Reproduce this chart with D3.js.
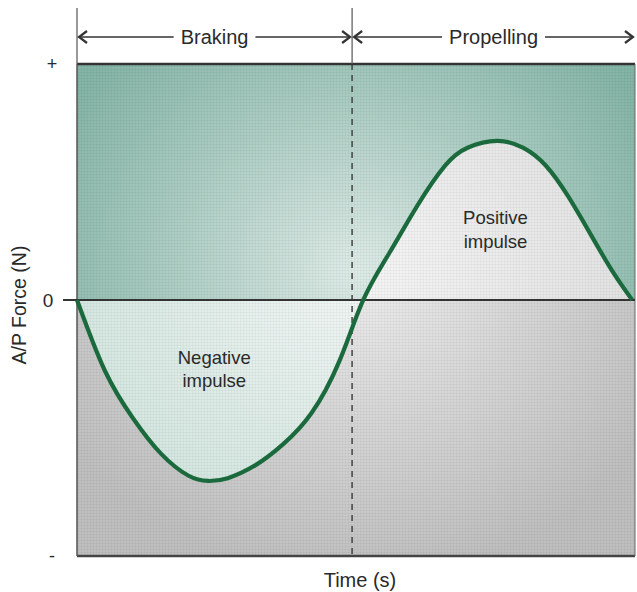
<!DOCTYPE html>
<html lang="en">
<head>
    <meta charset="UTF-8">
    <title>A/P Force</title>
    <script src="https://cdn.jsdelivr.net/npm/d3@7"></script>
    <style>
        body { margin: 0; background: #fff; }
        text { font-family: "Liberation Sans", Arial, Helvetica, sans-serif; fill: #2a2a2a; }
    </style>
</head>
<body>
    <script>
        // stance time (% of contact) and anterior/posterior force (relative units)
        let time = [0, 5, 10, 15, 20, 23.5, 27, 32, 37, 42, 47, 51.3, 56, 61, 66, 70, 75.3, 80, 84, 88, 92, 96, 99.5];
        let force = [0, -0.30, -0.50, -0.65, -0.745, -0.767, -0.755, -0.70, -0.61, -0.48, -0.26, 0,
            0.20, 0.40, 0.57, 0.645, 0.674, 0.645, 0.57, 0.44, 0.28, 0.12, 0];
        let phases = ['Braking', 'Propelling'];
        let phaseEdges = [0, 49.3, 100];
        let yTicks = [{ v: 1, label: '+' }, { v: 0, label: '0' }, { v: -1.085, label: '-' }];

        let width = 637,
            height = 592,
            pad = { left: 77, right: 635, top: 64, bottom: 556 };

        let x = d3.scaleLinear().domain([0, 100]).range([pad.left, pad.right]);
        let y = d3.scaleLinear().domain([-1.085, 1]).range([pad.bottom, pad.top]);
        let pts = time.map((t, i) => [t, force[i]]);
        let pw = pad.right - pad.left;

        let svg = d3.select('body').append('svg').attr('width', width).attr('height', height);
        let defs = svg.append('defs');

        // lighter centre like the original print
        let rg = defs.append('radialGradient').attr('id', 'glow')
            .attr('cx', 0.5).attr('cy', 0.42).attr('r', 0.62);
        rg.append('stop').attr('offset', 0).attr('stop-color', '#fff').attr('stop-opacity', 0.75);
        rg.append('stop').attr('offset', 0.55).attr('stop-color', '#fff').attr('stop-opacity', 0.35);
        rg.append('stop').attr('offset', 1).attr('stop-color', '#fff').attr('stop-opacity', 0.05);

        // fine halftone grid
        let pat = defs.append('pattern').attr('id', 'grid')
            .attr('width', 3).attr('height', 3).attr('patternUnits', 'userSpaceOnUse');
        pat.append('path').attr('d', 'M0 0.5H3M0.5 0V3')
            .attr('stroke', '#000').attr('stroke-opacity', 0.035).attr('stroke-width', 1);

        defs.append('clipPath').attr('id', 'above').append('rect')
            .attr('x', pad.left).attr('y', pad.top).attr('width', pw).attr('height', y(0) - pad.top);
        defs.append('clipPath').attr('id', 'below').append('rect')
            .attr('x', pad.left).attr('y', y(0)).attr('width', pw).attr('height', pad.bottom - y(0));

        // backgrounds
        svg.append('rect').attr('x', pad.left).attr('y', pad.top)
            .attr('width', pw).attr('height', y(0) - pad.top).attr('fill', '#7db1a1');
        svg.append('rect').attr('x', pad.left).attr('y', y(0))
            .attr('width', pw).attr('height', pad.bottom - y(0)).attr('fill', '#bcbcbc');

        let line = d3.line().x(d => x(d[0])).y(d => y(d[1])).curve(d3.curveNatural);
        let area = d3.area().x(d => x(d[0])).y0(y(0)).y1(d => y(d[1])).curve(d3.curveNatural);

        svg.append('path').datum(pts).attr('d', area).attr('fill', '#dcdcdc').attr('clip-path', 'url(#above)');
        svg.append('path').datum(pts).attr('d', area).attr('fill', '#cde2db').attr('clip-path', 'url(#below)');

        svg.append('rect').attr('x', pad.left).attr('y', pad.top)
            .attr('width', pw).attr('height', pad.bottom - pad.top).attr('fill', 'url(#glow)');
        svg.append('rect').attr('x', pad.left).attr('y', pad.top)
            .attr('width', pw).attr('height', pad.bottom - pad.top).attr('fill', 'url(#grid)');

        // phase divider
        svg.append('line')
            .attr('x1', x(phaseEdges[1])).attr('x2', x(phaseEdges[1]))
            .attr('y1', pad.top).attr('y2', pad.bottom)
            .attr('stroke', '#444').attr('stroke-width', 1.5).attr('stroke-dasharray', '6,5');

        // frame and zero line
        svg.append('line').attr('x1', pad.left).attr('x2', pad.right).attr('y1', pad.top).attr('y2', pad.top)
            .attr('stroke', '#333').attr('stroke-width', 2.5);
        svg.append('line').attr('x1', pad.left).attr('x2', pad.right).attr('y1', pad.bottom).attr('y2', pad.bottom)
            .attr('stroke', '#444').attr('stroke-width', 2.5);
        svg.append('line').attr('x1', pad.left).attr('x2', pad.left).attr('y1', pad.top).attr('y2', pad.bottom)
            .attr('stroke', '#555').attr('stroke-width', 1.5);
        svg.append('line').attr('x1', pad.right).attr('x2', pad.right).attr('y1', pad.top).attr('y2', pad.bottom)
            .attr('stroke', '#666').attr('stroke-width', 1);
        svg.append('line').attr('x1', 63).attr('x2', pad.right).attr('y1', y(0)).attr('y2', y(0))
            .attr('stroke', '#333').attr('stroke-width', 2);

        // curve
        svg.append('path').datum(pts).attr('d', line)
            .attr('fill', 'none').attr('stroke', '#1b6a3e').attr('stroke-width', 4.2);

        // y ticks
        svg.selectAll('.ytick').data(yTicks).enter().append('text')
            .attr('x', d => d.label === '0' ? 48 : 52).attr('y', d => y(d.v))
            .attr('dy', '0.35em').attr('text-anchor', 'middle')
            .style('font-size', d => d.label === '0' ? '19px' : '18px')
            .text(d => d.label);

        // phase arrows
        let arrowY = 37;
        svg.selectAll('.edge').data(phaseEdges.slice(0, 2)).enter().append('line')
            .attr('x1', d => x(d)).attr('x2', d => x(d)).attr('y1', 8).attr('y2', pad.top)
            .attr('stroke', '#555').attr('stroke-width', 1.2);

        phases.forEach((p, i) => {
            let x0 = x(phaseEdges[i]) + 2,
                x1 = x(phaseEdges[i + 1]) - 2,
                cx = (x0 + x1) / 2;
            let t = svg.append('text').attr('x', cx).attr('y', arrowY).attr('dy', '0.35em')
                .attr('text-anchor', 'middle').style('font-size', '20px').text(p);
            let w = t.node().getComputedTextLength() / 2 + 7;
            let g = svg.append('g').attr('stroke', '#333').attr('stroke-width', 1.5).attr('fill', 'none');
            g.append('line').attr('x1', x0).attr('x2', cx - w).attr('y1', arrowY).attr('y2', arrowY);
            g.append('line').attr('x1', cx + w).attr('x2', x1).attr('y1', arrowY).attr('y2', arrowY);
            g.append('path').attr('d', `M${x0 + 8},${arrowY - 6}L${x0},${arrowY}L${x0 + 8},${arrowY + 6}`)
                .attr('stroke-width', 2.2);
            g.append('path').attr('d', `M${x1 - 8},${arrowY - 6}L${x1},${arrowY}L${x1 - 8},${arrowY + 6}`)
                .attr('stroke-width', 2.2);
        });

        // region labels
        let labels = [
            { t: 24.6, f: -0.27, lines: ['Negative', 'impulse'] },
            { t: 75.0, f: 0.32, lines: ['Positive', 'impulse'] }
        ];
        labels.forEach(l => {
            let tx = svg.append('text').attr('x', x(l.t)).attr('y', y(l.f))
                .attr('text-anchor', 'middle').style('font-size', '18.5px');
            l.lines.forEach((s, i) => tx.append('tspan').attr('x', x(l.t)).attr('dy', i ? '1.25em' : 0).text(s));
        });

        // axis titles
        svg.append('text').attr('x', 360).attr('y', 587)
            .attr('text-anchor', 'middle').style('font-size', '20px').text('Time (s)');
        svg.append('text').attr('transform', 'translate(26,305) rotate(-90)')
            .attr('text-anchor', 'middle').style('font-size', '19.5px').text('A/P Force (N)');
    </script>
</body>
</html>
